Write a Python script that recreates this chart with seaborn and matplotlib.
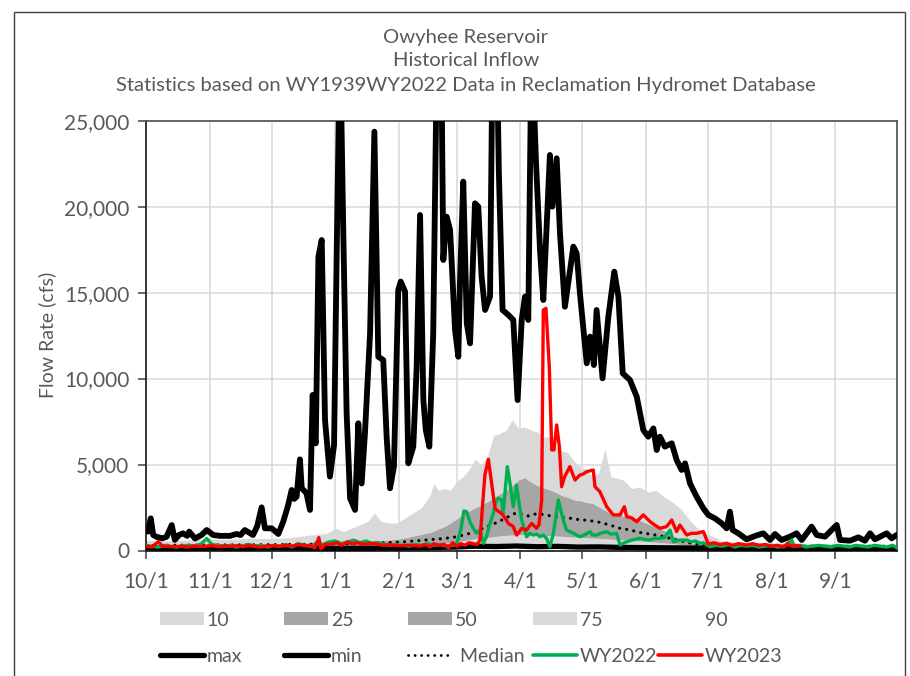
import numpy as np
import pandas as pd
import matplotlib
matplotlib.use("Agg")
import matplotlib.pyplot as plt
import seaborn as sns
from matplotlib.patches import Patch, Rectangle
from matplotlib.lines import Line2D
from matplotlib.ticker import FuncFormatter

# ---------------- data (day of water year, flow in cfs) ----------------
month_days = [0, 31, 61, 92, 123, 151, 182, 212, 243, 273, 304, 335]
month_labels = ["10/1", "11/1", "12/1", "1/1", "2/1", "3/1", "4/1", "5/1",
                "6/1", "7/1", "8/1", "9/1"]

band_days = [0, 10, 20, 30, 40, 50, 60, 70, 80, 88, 92, 96, 100, 104, 108,
             111, 114, 118, 122, 126, 130, 134, 138, 140, 142, 145, 148, 151,
             154, 157, 160, 163, 166, 169, 172, 175, 178, 181, 184, 187, 190,
             193, 196, 199, 202, 205, 208, 211, 214, 217, 220, 223, 226, 229,
             232, 236, 240, 244, 248, 252, 256, 260, 264, 268, 272, 276, 280,
             285, 300, 330, 365]
p90 = [600, 550, 600, 650, 650, 700, 700, 750, 900,
       1000, 1300, 1100, 1300, 1500, 1700,
       2200, 1700, 1600, 1600, 1900, 2200, 2500, 3200,
       3900, 3500, 3600, 3500, 4000, 4300, 4700, 5300,
       5000, 5500, 6700, 6800, 7000, 7600, 7100, 7200,
       7000, 6900, 6600, 6600, 6100, 5800, 5700, 5200,
       4900, 4700, 4300, 4500, 5900, 4300, 4200, 4100,
       3600, 3700, 3400, 3500, 3100, 2800, 2400, 1800,
       1300, 1000, 800, 550, 500, 450, 400, 350]
p75 = [350, 360, 370, 380, 390, 400, 400, 420, 450,
       480, 500, 520, 550, 560, 580,
       620, 600, 620, 650, 750, 850, 950, 1050,
       1150, 1250, 1400, 1600, 1850, 2100, 2300, 2500,
       2650, 2850, 3100, 3300, 3500, 3800, 4100, 4250,
       4000, 3800, 3650, 3550, 3400, 3200, 3100, 2950,
       2900, 2800, 2750, 2550, 2350, 2150, 2100, 2000,
       1900, 1750, 1550, 1350, 1150, 850, 650, 480,
       380, 330, 300, 290, 280, 270, 260, 250]
p25 = [200, 190, 200, 210, 210, 220, 220, 230, 240,
       250, 260, 250, 260, 270, 280,
       290, 290, 300, 310, 320, 340, 360, 380,
       400, 420, 440, 460, 500, 560, 620, 680,
       720, 760, 800, 850, 880, 900, 920, 930,
       900, 900, 880, 860, 850, 830, 800, 780,
       760, 740, 720, 700, 680, 660, 640, 620,
       580, 550, 520, 480, 440, 400, 350, 300,
       260, 230, 210, 200, 190, 180, 170, 160]
p10 = [120, 110, 120, 120, 130, 130, 130, 140, 140,
       150, 150, 150, 150, 160, 160,
       170, 170, 170, 180, 180, 190, 200, 210,
       220, 230, 240, 250, 260, 280, 300, 320,
       340, 350, 360, 370, 380, 390, 400, 400,
       400, 390, 380, 370, 360, 350, 340, 330,
       320, 310, 300, 290, 280, 270, 260, 250,
       240, 230, 220, 210, 200, 190, 180, 170,
       160, 150, 140, 130, 120, 110, 100, 100]

max_days = [0, 1, 2.3, 3.5, 5, 8, 10, 12.5, 14, 16, 18, 20, 21, 23.8, 27, 29.5,
            32.7, 36, 40.8, 44, 46, 48, 50, 52, 54, 56.2, 57.8, 61, 62.5, 64.3,
            66.7, 69, 70.8, 72, 73.2, 74.8, 75.7, 78, 79.7, 81, 82, 82.5, 83.8,
            85.4, 87, 89.4, 91.4, 92.7, 94.3, 95.9, 97.5, 99.2, 101.6, 103.2,
            104.8, 106.4, 108.9, 111, 112.9, 115.3, 117, 118.6, 120.5, 122.6,
            123.8, 125.9, 127.5, 129.9, 131.5, 133.2, 134.8, 136, 137.7, 139.6,
            141.5, 143.5, 144.5, 146.1, 147.8, 150.2, 151.8, 152.6, 154.2,
            155.9, 157.5, 159.9, 161.5, 163.1, 164.8, 167.2, 168.5, 170.4,
            171.5, 173.3, 176.1, 178.5, 180.6, 182.6, 184.2, 185.8, 187.4,
            189.5, 191.5, 193.1, 196.3, 197.5, 199.6, 201.2, 203.6, 207.7,
            209.3, 210.9, 214.2, 215.8, 217.7, 219, 221.9, 224.7, 227.6, 229.6,
            231.7, 235.2, 238.5, 241.7, 244.1, 246.6, 248.2, 249.8, 252.2,
            255.5, 257.9, 260.3, 262, 264.4, 267.6, 270.9, 273.3, 276.5, 279.8,
            282.2, 283.8, 285.1, 287.9, 291.9, 296, 300, 303.3, 305.7, 308.9,
            313, 316.2, 318.7, 323.5, 326, 330, 335.7, 337.3, 342.2, 346.2,
            349.4, 351.9, 354.3, 360, 362.4, 364.8]
max_vals = [1300, 1100, 1870, 900, 800, 710, 800, 1480, 620, 900, 1000, 850,
            1100, 700, 900, 1190, 900, 850, 850, 960, 900, 1190, 1050, 900,
            1400, 2510, 1290, 1290, 1150, 960, 1680, 2600, 3520, 3000, 3130,
            5300, 3620, 3330, 2360, 9045, 6500, 6235, 17090, 18060, 7590, 4300,
            6140, 17480, 30000, 18450, 8000, 3030, 2360, 7400, 3900, 6800,
            12630, 24360, 11270, 11080, 6500, 3620, 4880, 15150, 15640, 15060,
            5070, 6040, 10500, 19516, 8750, 7000, 6040, 12630, 30000, 29000,
            16900, 19420, 18640, 12830, 11270, 15640, 21455, 13215, 12050,
            20195, 20000, 15930, 13990, 14770, 30000, 30000, 22000, 13990,
            13700, 13410, 8750, 13410, 14770, 13410, 30000, 22716, 17480,
            14570, 23006, 20000, 22813, 18450, 14180, 17675, 17287, 14960,
            10890, 12440, 10790, 13990, 10016, 13600, 16220, 14770, 10306,
            9920, 8950, 7010, 6620, 7100, 5846, 6620, 6040, 6235, 5265, 4683,
            5070, 3900, 3130, 2450, 2066, 1870, 1580, 1290, 2260, 1190, 1000,
            650, 845, 1000, 610, 960, 610, 806, 1000, 610, 1387, 900, 806,
            1484, 610, 570, 767, 570, 1000, 650, 1000, 710, 900]

min_days = [0, 15, 30, 45, 60, 75, 90, 105, 120, 135, 150, 160, 170, 180, 190,
            200, 210, 220, 230, 240, 250, 260, 270, 280, 290, 300, 310, 320,
            330, 340, 350, 365]
min_vals = [150, 120, 140, 130, 150, 140, 120, 130, 140, 160, 200, 250, 230,
            260, 220, 240, 200, 210, 180, 170, 160, 150, 140, 130, 120, 110,
            100, 110, 100, 110, 100, 110]

median_days = [0, 30, 60, 90, 110, 125, 135, 145, 151, 156, 160, 165, 170,
               175, 180, 186, 190, 195, 200, 205, 210, 215, 220, 225, 230, 235,
               240, 245, 250, 255, 260, 265, 270, 275, 285, 300, 330, 365]
median_vals = [300, 320, 340, 380, 420, 500, 600, 700, 800, 950, 1100, 1350,
               1600, 1900, 2200, 2000, 2150, 2050, 1950, 1900, 1800, 1750,
               1650, 1500, 1300, 1200, 1050, 950, 850, 700, 550, 420, 330, 300,
               280, 260, 250, 250]

wy2022_days = [0, 3, 6, 9, 12, 15, 18, 21, 24, 27, 29.5, 32, 35, 38, 41, 44,
               47, 50, 53, 56, 59, 62, 65, 68, 71, 74, 77, 80, 83, 86, 89, 92,
               95, 98, 101, 104, 107, 110, 113, 116, 119, 122, 125, 128, 131,
               134, 137, 140, 143, 146, 149, 151, 153, 154.5, 155.8, 157.4, 159,
               160.7, 162.3, 164, 165.5, 167, 168.8, 170, 171.2, 172.8, 173.6,
               175.6, 176.9, 178.5, 180.1, 181, 182.6, 185, 186.5, 188.2, 190,
               191.5, 193, 194.7, 196.3, 198, 200.4, 202.8, 204.4, 206, 207.7,
               210.9, 213, 215.8, 217, 219, 221, 223.9, 226, 228.7, 230.4,
               233.6, 236, 240.1, 242, 244.9, 247, 249.8, 252, 254.7, 256.3,
               259, 262.8, 265, 267, 269.2, 271, 274.1, 277, 280, 283, 286, 289,
               292, 295, 298, 301, 304, 307, 310, 313.8, 315, 318, 321, 324,
               327, 330, 333, 336, 339, 342, 345, 348, 351, 354, 357, 360, 363,
               365]
wy2022_vals = [300, 250, 200, 300, 250, 200, 280, 300, 250, 400, 700, 350, 300,
               250, 300, 200, 280, 350, 250, 300, 200, 300, 250, 350, 200, 400,
               300, 250, 450, 350, 500, 550, 400, 500, 600, 450, 550, 400, 450,
               350, 300, 350, 300, 250, 350, 300, 400, 300, 350, 250, 300, 400,
               1200, 2300, 2260, 1680, 1300, 1000, 1190, 420, 800, 1500, 2160,
               2800, 3040, 2940, 2160, 4880, 3910, 2550, 3800, 3000, 1770, 800,
               1000, 900, 950, 800, 900, 700, 220, 1000, 2940, 1770, 1190, 1100,
               1000, 800, 900, 1100, 900, 900, 1000, 1100, 950, 1000, 320, 510,
               600, 710, 650, 610, 700, 710, 750, 1190, 510, 600, 610, 500, 550,
               420, 450, 220, 300, 250, 350, 200, 300, 250, 300, 200, 250, 300,
               200, 250, 610, 250, 300, 200, 250, 300, 250, 200, 300, 250, 200,
               300, 250, 200, 300, 250, 200, 300, 150]

wy2023_days = [0, 3, 6, 8, 11, 14, 17, 20, 23, 26, 29, 32, 35, 38, 41, 44, 47,
               50, 53, 56, 59, 62, 65, 68, 71, 74, 77, 80, 82, 84, 85, 87, 90,
               93, 95, 98, 100, 103, 106, 109, 112, 115, 118, 121, 124, 127,
               130, 133, 136, 138, 140, 142, 145, 147, 149, 151, 153, 155, 157,
               159, 161, 162.3, 164.7, 166.4, 168, 169.6, 171, 172.8, 174.5,
               176.1, 178.5, 180.1, 181.5, 182.6, 185, 187.4, 189.8, 191, 192.3,
               193.1, 194.4, 196, 197.2, 198.3, 199.6, 200.9, 202, 203.5, 206,
               208.5, 210.9, 212.5, 214.2, 217.4, 218.2, 220.6, 223.9, 227.1,
               230.4, 232.5, 233.6, 236, 238.5, 241.7, 245, 247, 249.8, 253,
               255.5, 257.9, 259.5, 262.8, 265, 267.6, 270.9, 273.3, 276, 279,
               282.2, 285, 288, 291.9, 295, 298, 301, 304, 307, 310, 312, 314,
               316, 318]
wy2023_vals = [250, 200, 520, 250, 230, 220, 250, 200, 260, 230, 250, 300, 220,
               260, 240, 280, 220, 300, 250, 200, 260, 280, 240, 300, 250, 350,
               280, 300, 150, 750, 100, 350, 380, 450, 300, 500, 400, 450, 350,
               420, 380, 300, 330, 300, 280, 310, 300, 250, 350, 200, 400, 300,
               350, 150, 450, 250, 400, 300, 450, 400, 350, 600, 4400, 5300,
               3900, 2450, 2300, 2160, 1900, 1580, 1390, 900, 1100, 1290, 1190,
               1580, 1290, 1500, 2900, 13990, 14090, 10700, 5850, 5850, 7300,
               6040, 3710, 4300, 4880, 4100, 4390, 4450, 4590, 4680, 3710, 3420,
               2550, 2070, 2070, 2550, 1970, 1900, 1680, 2070, 1680, 1500, 1290,
               1390, 1770, 1100, 1480, 900, 1000, 1000, 1100, 380, 450, 350,
               420, 300, 400, 320, 400, 300, 350, 250, 300, 200, 400, 250, 300,
               250]

# ---------------- style ----------------
sns.set_theme(style="white")
plt.rcParams['font.family'] = ['Lato', 'DejaVu Sans']

TXT = '#595959'
LIGHT = '#D9D9D9'
DARK = '#A6A6A6'
GREEN = '#00B050'
RED = '#FF0000'

W, H = 910, 676
fig = plt.figure(figsize=(W / 100, H / 100), dpi=100)
L, R, T, B = 146, 897, 120.7, 550.5
ax = fig.add_axes([L / W, 1 - B / H, (R - L) / W, (B - T) / H])

# percentile bands (stacked look)
ax.fill_between(band_days, p10, p25, color=LIGHT, lw=0, zorder=1)
ax.fill_between(band_days, p25, p75, color=DARK, lw=0, zorder=1)
ax.fill_between(band_days, p75, p90, color=LIGHT, lw=0, zorder=1)

kw = dict(ax=ax, legend=False, estimator=None)
sns.lineplot(x=max_days, y=max_vals, color='black', lw=4.2, zorder=3,
             solid_joinstyle='round', solid_capstyle='round', **kw)
sns.lineplot(x=min_days, y=min_vals, color='black', lw=3.8, zorder=3,
             solid_joinstyle='round', **kw)
sns.lineplot(x=median_days, y=median_vals, color='black', lw=2.2, zorder=4,
             linestyle=(0, (0.05, 2.3)), dash_capstyle='round', **kw)
sns.lineplot(x=wy2022_days, y=wy2022_vals, color=GREEN, lw=2.4, zorder=5,
             solid_joinstyle='round', **kw)
sns.lineplot(x=wy2023_days, y=wy2023_vals, color=RED, lw=2.4, zorder=6,
             solid_joinstyle='round', **kw)

ax.set_xlim(0, 365)
ax.set_ylim(0, 25000)
ax.set_xticks(month_days)
ax.set_xticklabels(month_labels)
ax.set_yticks([0, 5000, 10000, 15000, 20000, 25000])
ax.yaxis.set_major_formatter(FuncFormatter(lambda v, p: f"{v:,.0f}"))
ax.set_xlabel("")
ax.set_ylabel("")
ax.grid(True, color=LIGHT, lw=1.1)
ax.set_axisbelow(True)

for s in ['left', 'bottom']:
    ax.spines[s].set_color('#262626')
    ax.spines[s].set_linewidth(1.3)
for s in ['top', 'right']:
    ax.spines[s].set_color('#595959')
    ax.spines[s].set_linewidth(1.3)

ax.tick_params(axis='both', which='major', direction='out', length=6,
               width=1.1, color='#404040', labelcolor=TXT, labelsize=15,
               left=True, bottom=True)
ax.tick_params(axis='y', pad=6)
ax.tick_params(axis='x', pad=9)

fig.text(47 / W, 1 - 335 / H, "Flow Rate (cfs)", rotation=90, ha='center',
         va='center', fontsize=14, color=TXT)

# titles
for txt, yp in [("Owyhee Reservoir", 37), ("Historical Inflow", 61),
                ("Statistics based on WY1939WY2022 Data in Reclamation Hydromet Database", 85)]:
    fig.text(466 / W, 1 - yp / H, txt, ha='center', va='center',
             fontsize=14.6, color=TXT)

# legend (two rows, five aligned columns)
col_x = [160, 284, 408, 533, 658]
row1 = [(Patch(fc=LIGHT, ec='none'), "10"), (Patch(fc=DARK, ec='none'), "25"),
        (Patch(fc=DARK, ec='none'), "50"), (Patch(fc=LIGHT, ec='none'), "75"),
        (Patch(fc='none', ec='none'), "90")]
row2 = [(Line2D([], [], color='black', lw=3.8, solid_capstyle='round'), "max"),
        (Line2D([], [], color='black', lw=3.8, solid_capstyle='round'), "min"),
        (Line2D([], [], color='black', lw=2.0, linestyle=(0, (0.05, 2.3)),
                dash_capstyle='round'), " Median"),
        (Line2D([], [], color=GREEN, lw=2.6), "WY2022"),
        (Line2D([], [], color=RED, lw=2.6), "WY2023")]
for yrow, row in [(620, row1), (656, row2)]:
    for xc, (h, lab) in zip(col_x, row):
        leg = fig.legend(handles=[h], labels=[lab], loc='center left',
                         bbox_to_anchor=(xc / W, 1 - yrow / H), frameon=False,
                         borderpad=0, borderaxespad=0, handlelength=2.25,
                         handleheight=0.6, handletextpad=0.15, fontsize=14)
        for t in leg.get_texts():
            t.set_color(TXT)

# outer frame
fig.add_artist(Rectangle((14 / W, -0.05), (905 - 14) / W, 1 - 12 / H + 0.05,
                         transform=fig.transFigure, fill=False,
                         ec='#404040', lw=1.0))

fig.savefig("out.png", dpi=100)
